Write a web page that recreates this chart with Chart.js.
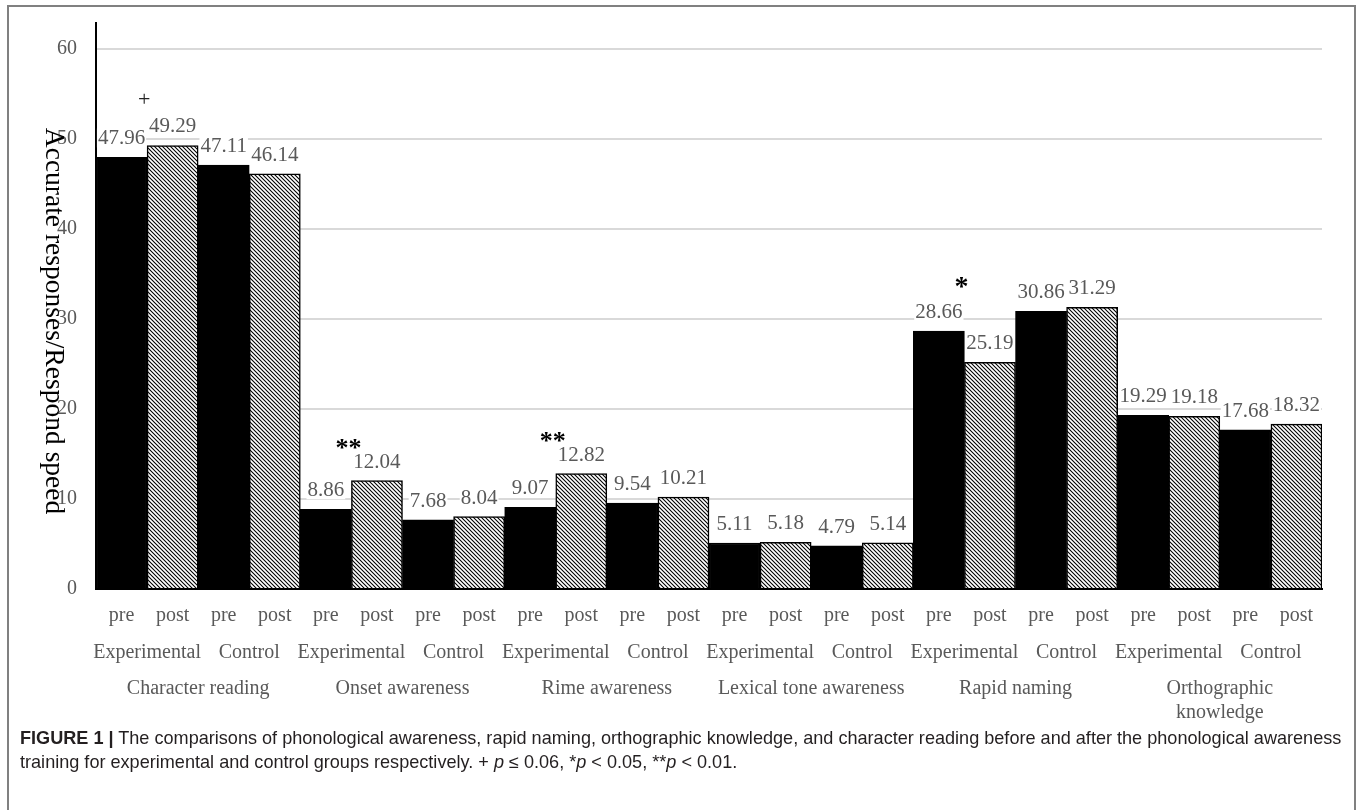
<!DOCTYPE html>
<html>
<head>
<meta charset="utf-8">
<script src="https://cdn.jsdelivr.net/npm/chart.js@4.4.0/dist/chart.umd.min.js"></script>
<style>
  html, body { margin: 0; padding: 0; background: #fff; overflow: hidden; }
  body { width: 1358px; height: 810px; position: relative; }
  #frame { position: absolute; left: 7px; top: 5px; width: 1349px; height: 900px;
           border: 2px solid #808080; box-sizing: border-box; pointer-events: none; }
  #chart { position: absolute; left: 0; top: 0; }
  #caption { position: absolute; left: 20px; top: 726px; white-space: nowrap;
             font: 18.1px "Liberation Sans", Arial, sans-serif; line-height: 24px; color: #231f20; }
</style>
</head>
<body>
<canvas id="chart" width="1358" height="735"></canvas>
<div id="frame"></div>
<div id="caption"><b>FIGURE 1 |</b> The comparisons of phonological awareness, rapid naming, orthographic knowledge, and character reading before and after the phonological awareness<br>training for experimental and control groups respectively. + <i>p</i> &le; 0.06, *<i>p</i> &lt; 0.05, **<i>p</i> &lt; 0.01.</div>
<script>
// chart data
const tasks = ["Character reading", "Onset awareness", "Rime awareness",
  "Lexical tone awareness", "Rapid naming", ["Orthographic", "knowledge"]];
const groups = ["Experimental", "Control"];
const phases = ["pre", "post"];
// one value per task and group (Experimental, Control)
const preScores = [47.96, 47.11, 8.86, 7.68, 9.07, 9.54, 5.11, 4.79, 28.66, 30.86, 19.29, 17.68];
const postScores = [49.29, 46.14, 12.04, 8.04, 12.82, 10.21, 5.18, 5.14, 25.19, 31.29, 19.18, 18.32];
const marks = ["+", "", "**", "", "**", "", "", "", "*", "", "", ""];
const yTicks = [0, 10, 20, 30, 40, 50, 60];

const serif = '"Liberation Serif", "Times New Roman", serif';
const grey = "#595959";

// flatten to one bar per task / group / phase
const barLabels = [];
const barValues = [];
const groupLabels = [];
tasks.forEach((t, i) => {
  groups.forEach((g, j) => {
    const k = i * 2 + j;
    groupLabels.push(g);
    barLabels.push(phases[0], phases[1]);
    barValues.push(preScores[k], postScores[k]);
  });
});

// diagonal hatch for the post bars
function makeHatch() {
  const s = 4;
  const tile = document.createElement("canvas");
  tile.width = s;
  tile.height = s;
  const t = tile.getContext("2d");
  t.fillStyle = "#fff";
  t.fillRect(0, 0, s, s);
  t.strokeStyle = "#000";
  t.lineWidth = 1.1;
  t.beginPath();
  t.moveTo(-s, -s); t.lineTo(2 * s, 2 * s);
  t.moveTo(0, -s); t.lineTo(2 * s, s);
  t.moveTo(-s, 0); t.lineTo(s, 2 * s);
  t.stroke();
  return document.getElementById("chart").getContext("2d").createPattern(tile, "repeat");
}
const hatch = makeHatch();

// how far above the taller bar each kind of mark sits
const markStyle = {
  "+": { size: 22, bold: false, lift: 45, mid: 0.25, color: "#222" },
  "*": { size: 28, bold: true, lift: 50, mid: 0.5, color: "#000" },
  "**": { size: 26, bold: true, lift: 38, mid: 0.5, color: "#000" }
};

// value labels, significance marks and the y title
const extras = {
  id: "extras",
  afterDatasetsDraw(chart) {
    const c = chart.ctx;
    const bars = chart.getDatasetMeta(0).data;
    c.save();
    c.font = "21px " + serif;
    c.textAlign = "center";
    c.textBaseline = "alphabetic";
    bars.forEach((bar, i) => {
      const txt = barValues[i].toFixed(2);
      const w = c.measureText(txt).width;
      const y = bar.y - 13;
      c.fillStyle = "#fff";
      c.fillRect(bar.x - w / 2 - 1, y - 16, w + 2, 19);
      c.fillStyle = grey;
      c.fillText(txt, bar.x, y);
    });
    marks.forEach((m, k) => {
      if (!m) return;
      const st = markStyle[m];
      const pre = bars[2 * k];
      const post = bars[2 * k + 1];
      const x = post.x - post.width / 2 - 3;
      const mid = Math.min(pre.y, post.y) - st.lift;
      c.font = (st.bold ? "bold " : "") + st.size + "px " + serif;
      c.fillStyle = st.color;
      c.fillText(m, x, mid + st.mid * st.size);
    });
    c.restore();
  },
  afterDraw(chart) {
    const c = chart.ctx;
    const y = chart.scales.y;
    const cy = (y.getPixelForValue(yTicks[0]) + y.getPixelForValue(yTicks[yTicks.length - 1])) / 2 + 2;
    c.save();
    c.translate(46, cy);
    c.rotate(Math.PI / 2);
    c.font = "27.5px " + serif;
    c.fillStyle = "#000";
    c.textAlign = "center";
    c.textBaseline = "alphabetic";
    c.fillText("Accurate responses/Respond speed", 0, 0);
    c.restore();
  }
};

const tickFont = { family: serif, size: 20 };

new Chart(document.getElementById("chart"), {
  type: "bar",
  data: {
    labels: barLabels,
    datasets: [{
      data: barValues,
      backgroundColor: barValues.map((v, i) => (i % 2 ? hatch : "#000")),
      borderColor: "#000",
      borderWidth: 1.5,
      barPercentage: 1,
      categoryPercentage: 1
    }]
  },
  options: {
    responsive: false,
    animation: false,
    layout: { padding: { left: 0, top: 23, right: 36, bottom: 0 } },
    plugins: { legend: { display: false }, tooltip: { enabled: false } },
    scales: {
      y: {
        min: 0,
        max: 62.9,
        afterBuildTicks: (s) => { s.ticks = yTicks.map((v) => ({ value: v })); },
        afterFit: (s) => { s.width = 96; s.paddingTop = 0; s.paddingBottom = 0; },
        grid: { color: "#d9d9d9", lineWidth: 2, drawTicks: false },
        border: { color: "#000", width: 2 },
        ticks: { padding: 19, color: grey, font: tickFont }
      },
      x: {
        position: "bottom",
        weight: 0,
        afterFit: (s) => { s.height = 44; },
        grid: { display: false, drawTicks: false },
        border: { color: "#000", width: 2 },
        ticks: { padding: 15, color: grey, font: tickFont, maxRotation: 0, autoSkip: false }
      },
      x2: {
        type: "category",
        labels: groupLabels,
        position: "bottom",
        weight: 1,
        offset: true,
        afterFit: (s) => { s.height = 37; },
        grid: { display: false, drawTicks: false },
        border: { display: false },
        ticks: { padding: 8, color: grey, font: tickFont, maxRotation: 0, autoSkip: false }
      },
      x3: {
        type: "category",
        labels: tasks,
        position: "bottom",
        weight: 2,
        offset: true,
        afterFit: (s) => { s.height = 65; },
        grid: { display: false, drawTicks: false },
        border: { display: false },
        ticks: { padding: 7, color: grey, font: tickFont, maxRotation: 0, autoSkip: false }
      }
    }
  },
  plugins: [extras]
});
</script>
</body>
</html>
